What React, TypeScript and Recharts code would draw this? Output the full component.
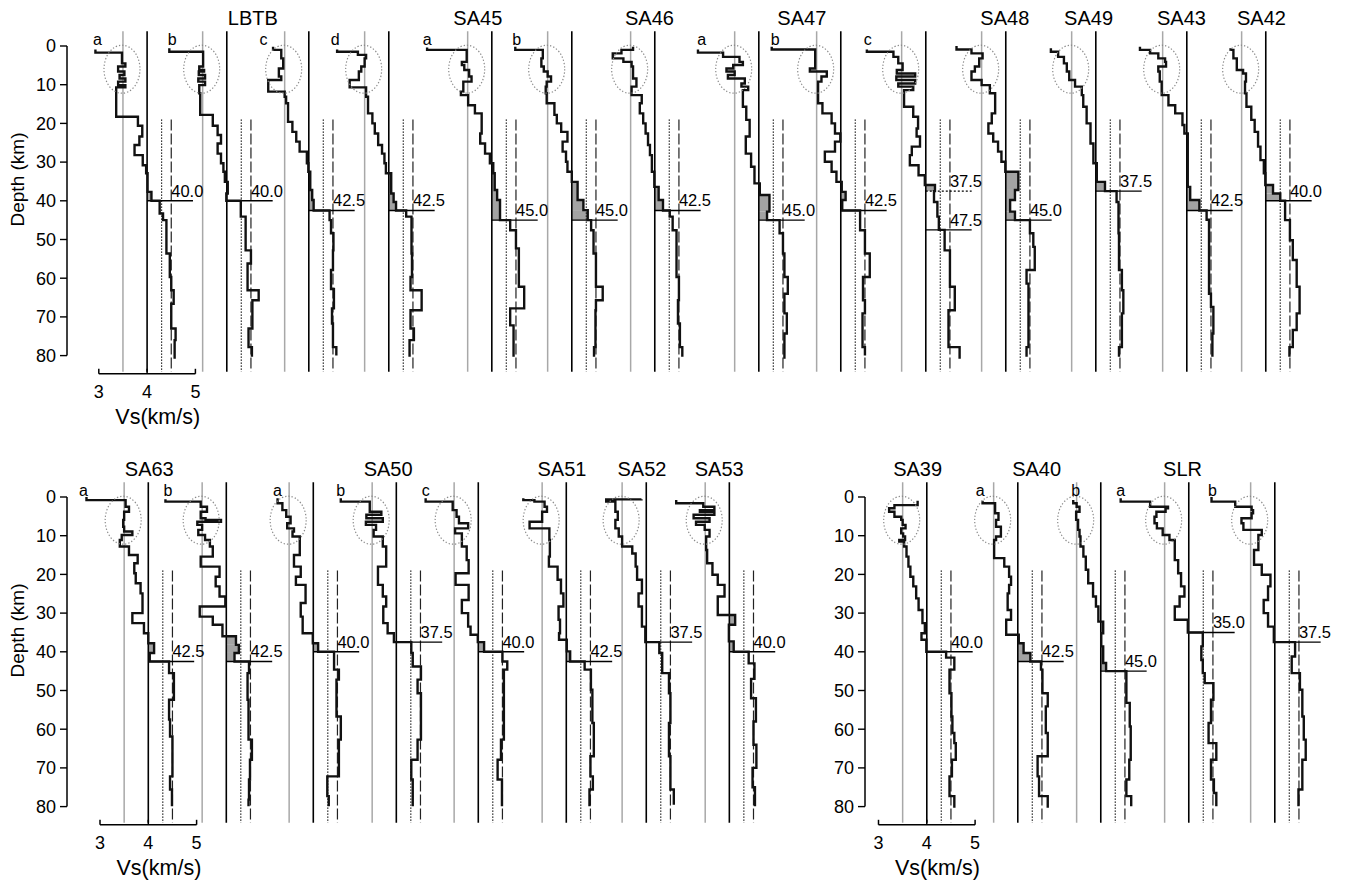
import React from 'react';
import { ComposedChart, XAxis, YAxis, Scatter, ReferenceLine, ReferenceArea, ReferenceDot } from 'recharts';

type Layer = [number, number]; // [layer top depth (km), Vs (km/s)]; last entry = bottom depth

// ---------------- TOP ROW ----------------
const LBTB_A: Layer[] = [[0.9,2.93],[1.7,3.48],[4.5,3.55],[5.3,3.40],[6.6,3.53],[7.5,3.43],[8.4,3.55],[9.2,3.40],[10.1,3.55],[10.7,3.36],[18.3,3.81],[20.6,3.90],[23.4,3.84],[25.6,3.74],[28.2,3.91],[30.8,3.98],[32.9,4.01],[37.7,4.09],[40.0,4.26],[43.3,4.33],[45.0,4.40],[53.6,4.47],[59.7,4.50],[63.1,4.55],[66.6,4.50],[73.0,4.59],[76.0,4.57],[80.8,4.57]];
const LBTB_B: Layer[] = [[0.6,2.81],[1.5,3.51],[5.3,3.43],[6.2,3.53],[6.6,3.42],[7.5,3.55],[8.4,3.41],[9.2,3.55],[10.1,3.43],[12.2,3.45],[17.8,3.71],[20.6,3.81],[23.0,3.88],[25.2,3.81],[27.8,3.88],[30.3,3.93],[32.5,3.96],[35.1,4.02],[38.1,3.99],[40.0,4.29],[44.1,4.39],[52.8,4.50],[56.2,4.43],[63.1,4.66],[65.7,4.53],[73.0,4.45],[77.8,4.52],[80.3,4.52]];
const LBTB_C: Layer[] = [[0.2,3.26],[1.0,3.43],[3.2,3.47],[5.8,3.38],[7.9,3.43],[8.8,3.16],[11.8,3.50],[13.1,3.53],[14.8,3.57],[19.6,3.66],[22.2,3.74],[24.7,3.81],[27.3,3.96],[30.3,3.99],[32.5,4.03],[37.2,4.07],[39.8,4.10],[42.5,4.43],[45.0,4.46],[48.4,4.51],[52.8,4.50],[57.9,4.46],[62.8,4.52],[67.8,4.48],[71.7,4.50],[77.8,4.57],[80.0,4.57]];
const LBTB_D: Layer[] = [[0.9,2.93],[1.5,3.36],[2.3,3.53],[3.2,3.50],[5.3,3.43],[6.6,3.38],[8.8,3.19],[10.7,3.53],[13.1,3.57],[17.4,3.66],[20.0,3.71],[22.6,3.78],[25.6,3.86],[27.8,3.91],[30.3,3.94],[32.9,4.05],[38.1,4.10],[40.3,4.15],[42.5,4.36],[44.1,4.47],[53.6,4.48],[59.7,4.45],[63.1,4.68],[68.3,4.45],[73.0,4.52],[76.0,4.43],[80.3,4.43]];
const SA45_A: Layer[] = [[0.4,2.66],[1.0,3.48],[4.1,3.38],[4.9,3.43],[6.2,3.53],[7.9,3.58],[9.2,3.41],[11.8,3.36],[12.7,3.51],[15.3,3.65],[17.4,3.79],[22.6,3.76],[25.2,3.86],[27.8,3.96],[30.3,4.03],[32.9,4.06],[37.2,4.11],[39.8,4.17],[45.0,4.38],[47.6,4.50],[52.3,4.56],[62.2,4.67],[67.8,4.38],[72.2,4.45],[80.3,4.45]];
const SA45_B: Layer[] = [[0.2,2.83],[1.0,3.40],[3.2,3.37],[5.3,3.42],[6.6,3.50],[7.9,3.57],[9.2,3.48],[10.5,3.46],[12.2,3.48],[14.8,3.64],[17.8,3.69],[20.0,3.78],[22.2,3.91],[24.7,3.81],[27.3,3.88],[29.9,3.91],[32.5,4.00],[35.1,4.12],[39.8,4.24],[42.4,4.33],[45.0,4.40],[47.6,4.45],[53.6,4.50],[62.2,4.64],[65.7,4.50],[68.3,4.49],[77.8,4.46],[80.3,4.46]];
const SA46: Layer[] = [[0.2,3.55],[1.0,3.31],[1.9,3.13],[3.2,3.35],[4.1,3.52],[5.3,3.55],[8.4,3.62],[10.5,3.52],[12.7,3.73],[14.8,3.69],[17.4,3.76],[20.0,3.81],[22.6,3.86],[25.6,3.90],[28.2,3.94],[32.5,3.99],[36.4,4.08],[39.8,4.17],[42.5,4.31],[44.1,4.37],[47.6,4.45],[59.7,4.50],[65.7,4.48],[71.7,4.52],[77.8,4.57],[80.3,4.57]];
const SA47_A: Layer[] = [[0.9,2.74],[1.7,3.26],[2.8,3.60],[4.1,3.67],[4.9,3.47],[5.8,3.33],[6.6,3.50],[7.5,3.36],[8.4,3.71],[9.7,3.64],[10.5,3.78],[11.4,3.67],[15.7,3.74],[19.1,3.81],[23.4,3.73],[27.8,3.84],[31.2,3.91],[35.5,4.02],[38.5,4.22],[42.8,4.17],[45.0,4.43],[48.4,4.50],[53.6,4.53],[59.7,4.60],[64.0,4.53],[69.1,4.58],[74.3,4.53],[80.8,4.53]];
const SA47_B: Layer[] = [[0.2,2.57],[0.9,3.47],[5.8,3.36],[6.6,3.71],[7.9,3.60],[9.2,3.53],[14.8,3.62],[17.4,3.81],[20.0,3.88],[22.6,3.99],[24.7,3.88],[27.3,3.67],[29.9,3.81],[32.5,3.91],[35.1,4.02],[37.7,4.10],[39.8,4.03],[42.5,4.40],[47.6,4.50],[53.6,4.60],[59.7,4.46],[65.7,4.50],[69.1,4.45],[77.8,4.50],[80.0,4.50]];
const SA47_C: Layer[] = [[0.9,2.78],[1.5,3.33],[2.8,3.43],[4.5,3.52],[6.2,3.40],[7.1,3.78],[7.9,3.39],[8.8,3.78],[9.7,3.43],[10.5,3.74],[11.4,3.55],[15.7,3.74],[18.3,3.84],[21.3,3.81],[23.4,3.88],[26.0,3.71],[28.2,3.67],[30.8,3.85],[33.4,3.98],[35.9,4.19],[37.5,4.17],[40.3,4.24],[44.1,4.27],[47.5,4.39],[52.8,4.50],[62.2,4.60],[68.3,4.47],[77.8,4.70],[80.8,4.70]];
const SA48: Layer[] = [[0.0,2.98],[0.9,3.29],[1.9,3.52],[3.2,3.45],[5.3,3.36],[6.6,3.29],[8.8,3.50],[10.1,3.67],[12.2,3.78],[17.4,3.71],[20.0,3.64],[22.6,3.74],[24.7,3.84],[27.3,3.91],[29.9,3.99],[32.5,4.26],[37.2,4.19],[39.8,4.09],[42.8,4.19],[45.0,4.50],[48.4,4.57],[51.9,4.60],[57.9,4.43],[61.4,4.47],[77.8,4.43],[80.3,4.43]];
const SA49: Layer[] = [[0.6,3.07],[1.5,3.22],[2.8,3.34],[4.5,3.40],[6.6,3.45],[8.8,3.57],[10.5,3.71],[12.7,3.74],[15.7,3.81],[20.0,3.89],[25.2,3.95],[30.3,4.02],[35.1,4.19],[37.5,4.43],[40.3,4.47],[48.4,4.48],[57.9,4.54],[63.1,4.57],[69.1,4.54],[77.8,4.48],[80.3,4.48]];
const SA43: Layer[] = [[0.2,3.03],[1.0,3.24],[1.9,3.41],[3.2,3.55],[4.1,3.57],[5.3,3.41],[6.6,3.44],[9.2,3.48],[12.7,3.62],[15.3,3.76],[17.4,3.91],[20.4,3.95],[22.6,4.02],[36.4,4.07],[39.8,4.26],[42.5,4.41],[44.9,4.46],[64.0,4.50],[67.4,4.55],[74.3,4.53],[80.3,4.53]];
const SA42: Layer[] = [[0.6,3.27],[1.0,3.33],[3.2,3.40],[6.2,3.53],[7.1,3.59],[9.2,3.57],[12.2,3.60],[15.7,3.70],[19.1,3.77],[22.2,3.84],[26.0,3.89],[29.5,3.96],[32.9,3.99],[35.9,4.15],[38.1,4.30],[40.0,4.40],[45.0,4.50],[50.2,4.56],[55.3,4.64],[62.2,4.70],[69.1,4.64],[73.4,4.56],[77.8,4.49],[80.3,4.49]];

// ---------------- BOTTOM LEFT ----------------
const SA63_A: Layer[] = [[0.0,2.72],[0.8,3.53],[2.5,3.60],[3.8,3.50],[5.9,3.48],[7.7,3.50],[8.9,3.67],[9.8,3.45],[11.1,3.41],[12.8,3.60],[15.0,3.78],[17.1,3.71],[19.7,3.74],[22.3,3.84],[24.9,3.88],[30.0,3.67],[32.6,3.91],[35.2,4.00],[37.8,4.12],[40.3,4.03],[42.5,4.43],[45.5,4.53],[52.4,4.43],[57.5,4.45],[61.9,4.50],[72.2,4.45],[75.6,4.49],[79.9,4.49]];
const SA63_B: Layer[] = [[0.6,2.74],[1.2,3.47],[2.5,3.60],[3.8,3.47],[5.5,3.57],[5.9,3.89],[6.4,3.40],[7.2,3.50],[8.5,3.42],[9.8,3.56],[11.1,3.66],[12.8,3.72],[15.4,3.47],[18.0,3.86],[20.6,3.78],[23.1,3.86],[25.7,3.98],[28.3,3.45],[30.9,3.72],[33.0,3.92],[36.0,4.20],[38.2,4.26],[40.3,4.17],[42.5,4.47],[45.5,4.44],[52.4,4.46],[62.7,4.53],[67.9,4.49],[73.0,4.47],[78.2,4.46],[79.9,4.46]];
const SA50_A: Layer[] = [[0.3,3.26],[1.6,3.36],[3.4,3.44],[5.1,3.53],[6.8,3.46],[8.1,3.60],[8.9,3.57],[10.2,3.72],[15.0,3.60],[18.0,3.74],[20.6,3.64],[22.7,3.84],[27.4,3.74],[30.9,3.78],[35.2,3.99],[37.8,4.10],[40.0,4.43],[44.6,4.53],[47.2,4.48],[56.7,4.57],[62.7,4.53],[72.2,4.29],[77.3,4.32],[79.9,4.32]];
const SA50_B: Layer[] = [[0.3,2.85],[1.2,3.45],[3.8,3.69],[4.6,3.38],[5.5,3.72],[6.4,3.37],[7.2,3.58],[8.5,3.53],[10.2,3.72],[12.8,3.79],[18.0,3.62],[22.7,3.72],[25.7,3.79],[28.3,3.73],[32.6,3.82],[35.2,3.95],[37.5,4.31],[40.3,4.34],[43.8,4.51],[47.2,4.44],[50.7,4.51],[62.7,4.44],[67.9,4.31],[73.0,4.34],[79.9,4.34]];
const SA50_C: Layer[] = [[0.3,2.91],[1.2,3.47],[3.4,3.55],[5.1,3.60],[6.8,3.79],[8.1,3.52],[9.4,3.66],[12.8,3.76],[16.3,3.80],[19.7,3.53],[22.7,3.80],[26.6,3.66],[30.0,3.79],[33.5,3.84],[35.6,3.99],[37.5,4.12],[40.0,4.50],[42.5,4.60],[44.6,4.53],[62.7,4.47],[67.9,4.40],[73.0,4.49],[79.9,4.49]];
const SA51: Layer[] = [[0.3,3.11],[0.8,3.34],[1.2,3.55],[2.5,3.60],[3.8,3.50],[6.4,3.24],[8.1,3.65],[11.1,3.66],[15.4,3.64],[18.0,3.82],[21.4,3.89],[24.9,3.94],[28.3,3.84],[31.7,3.87],[35.2,3.85],[36.9,4.01],[39.9,4.08],[42.5,4.38],[44.6,4.51],[49.8,4.54],[58.4,4.57],[67.0,4.50],[72.2,4.55],[75.6,4.48],[79.9,4.48]];
const SA52: Layer[] = [[0.6,3.90],[0.62,3.17],[1.2,3.36],[3.8,3.41],[5.9,3.36],[8.1,3.43],[10.2,3.50],[12.8,3.71],[14.6,3.78],[18.0,3.81],[21.4,3.91],[24.9,3.84],[28.3,3.91],[33.5,3.98],[37.5,4.27],[40.3,4.33],[45.5,4.47],[50.7,4.50],[58.4,4.47],[67.0,4.50],[75.6,4.57],[79.5,4.57]];
const SA53: Layer[] = [[0.8,2.90],[1.6,3.46],[2.5,3.69],[3.4,3.39],[3.8,3.69],[4.6,3.26],[5.5,3.59],[6.4,3.31],[7.2,3.49],[8.5,3.59],[10.2,3.52],[13.7,3.54],[17.1,3.65],[20.1,3.76],[22.7,3.90],[25.7,3.76],[30.5,4.12],[33.0,3.99],[37.3,4.09],[40.0,4.40],[43.0,4.52],[47.0,4.45],[52.0,4.55],[58.0,4.50],[64.0,4.56],[70.0,4.48],[75.0,4.53],[79.9,4.53]];

// ---------------- BOTTOM RIGHT ----------------
const SA39: Layer[] = [[1.0,3.81],[2.1,3.33],[2.9,3.22],[3.8,3.33],[5.1,3.47],[5.9,3.50],[7.2,3.56],[8.1,3.47],[9.4,3.51],[10.2,3.55],[11.1,3.43],[11.5,3.53],[12.8,3.58],[15.4,3.62],[18.0,3.66],[20.6,3.72],[23.1,3.78],[26.2,3.83],[29.2,3.91],[32.6,3.96],[35.2,3.89],[36.9,3.99],[40.0,4.40],[41.5,4.57],[44.6,4.47],[50.7,4.51],[56.7,4.53],[61.0,4.57],[63.6,4.60],[67.9,4.52],[72.2,4.47],[77.3,4.57],[80.3,4.57]];
const SA40_A: Layer[] = [[1.0,3.27],[1.6,3.53],[4.2,3.60],[5.9,3.55],[7.7,3.65],[10.2,3.55],[11.1,3.51],[15.8,3.72],[18.0,3.82],[20.6,3.86],[22.7,3.82],[24.9,3.79],[29.2,3.86],[31.7,3.76],[35.6,4.02],[37.8,4.12],[40.3,4.26],[42.5,4.48],[44.6,4.51],[50.7,4.62],[54.1,4.58],[61.0,4.62],[67.0,4.41],[72.2,4.44],[77.3,4.62],[80.3,4.62]];
const SA40_B: Layer[] = [[0.8,3.43],[1.6,3.50],[2.5,3.56],[3.8,3.49],[5.9,3.53],[8.5,3.56],[10.2,3.58],[12.8,3.64],[15.4,3.69],[18.8,3.74],[22.3,3.84],[25.7,3.90],[28.3,3.95],[32.2,4.05],[35.2,4.01],[38.6,4.05],[42.9,4.11],[45.0,4.53],[53.2,4.60],[59.3,4.62],[67.9,4.59],[73.0,4.53],[77.3,4.63],[79.9,4.63]];
const SLR_A: Layer[] = [[0.3,2.59],[1.2,3.20],[2.5,3.57],[2.9,3.52],[3.8,3.33],[5.1,3.29],[6.8,3.34],[8.1,3.46],[9.8,3.60],[11.1,3.71],[16.3,3.78],[19.7,3.84],[23.1,3.91],[25.7,3.81],[28.3,3.71],[31.7,3.98],[35.0,4.29],[38.6,4.26],[42.1,4.29],[45.5,4.33],[48.1,4.51],[52.4,4.46],[58.4,4.41],[63.6,4.57],[67.9,4.46],[73.0,4.52],[76.5,4.57],[79.9,4.57]];
const SLR_B: Layer[] = [[0.0,2.69],[1.2,3.18],[2.5,3.52],[3.4,3.55],[4.2,3.52],[5.5,3.31],[6.8,3.35],[8.5,3.73],[9.8,3.66],[13.7,3.57],[17.5,3.73],[20.1,3.91],[23.1,3.86],[26.6,3.77],[30.0,3.86],[33.5,3.98],[37.5,4.42],[41.2,4.35],[45.5,4.52],[49.8,4.57],[56.7,4.60],[62.7,4.64],[67.9,4.57],[75.6,4.49],[79.9,4.49]];

// ---------------- row tables ----------------
const TOP_PROFILES = [LBTB_A, LBTB_B, LBTB_C, LBTB_D, SA45_A, SA45_B, SA46, SA47_A, SA47_B, SA47_C, SA48, SA49, SA43, SA42];
const TOP_LETTERS = ['a', 'b', 'c', 'd', 'a', 'b', '', 'a', 'b', 'c', '', '', '', ''];
const TOP_MOHO = [40.0, 40.0, 42.5, 42.5, 45.0, 45.0, 42.5, 45.0, 42.5, 47.5, 45.0, 37.5, 42.5, 40.0];
const TOP_MOHO_UPPER: (number | null)[] = [null, null, null, null, null, null, null, null, null, 37.5, null, null, null, null];
const TOP_TITLES = ['LBTB', 'SA45', 'SA46', 'SA47', 'SA48', 'SA49', 'SA43', 'SA42'];

const BL_PROFILES = [SA63_A, SA63_B, SA50_A, SA50_B, SA50_C, SA51, SA52, SA53];
const BL_LETTERS = ['a', 'b', 'a', 'b', 'c', '', '', ''];
const BL_MOHO = [42.5, 42.5, 40.0, 37.5, 40.0, 42.5, 37.5, 40.0];
const BL_MOHO_UPPER: (number | null)[] = [null, null, null, null, null, null, null, null];
const BL_TITLES = ['SA63', 'SA50', 'SA51', 'SA52', 'SA53'];

const BR_PROFILES = [SA39, SA40_A, SA40_B, SLR_A, SLR_B];
const BR_LETTERS = ['', 'a', 'b', 'a', 'b'];
const BR_MOHO = [40.0, 42.5, 45.0, 35.0, 37.5];
const BR_MOHO_UPPER: (number | null)[] = [null, null, null, null, null];
const BR_TITLES = ['SA39', 'SA40', 'SLR'];

const VS_TICKS = [3, 4, 5];
const DEPTH_TICKS = [0, 10, 20, 30, 40, 50, 60, 70, 80];
const REF_GRAY = 3.5;
const REF_BLACK = 4.0;
const REF_DOT = 4.3;
const REF_DASH = 4.5;

// ---------------- layout (positions/styles only) ----------------
const FONT = '"Liberation Sans", Arial, Helvetica, sans-serif';
const PX_KMS = 48.3;
const PX_KM = 3.87;
const D_MIN = -10;
const D_MAX = 84.7;
const X_AXIS_H = 60;
const TITLE_DEPTH = -7.2;
const LETTER_DEPTH = -1.8;

interface Layout {
  left: number; top: number; width: number; plotLeft: number; unit3Px: number; zeroPx: number;
  offsets: number[]; titlePos: [number, number][]; letterDx: number[]; depthLabel: boolean;
}

const TOP_LAYOUT: Layout = {
  left: 0, top: 0, width: 1347, plotLeft: 67, unit3Px: 98.8, zeroPx: 46,
  offsets: [0, 1.65, 3.348, 5.004, 7.137, 8.793, 10.511, 12.665, 14.362, 16.122, 17.778, 19.642, 21.526, 23.161],
  titlePos: [[0, 6.19], [4, 3.71], [6, 3.89], [7, 4.89], [10, 3.98], [11, 3.85], [12, 3.89], [13, 3.91]],
  letterDx: [0.04, 0.06, -0.2, -0.04, 0.0, 0.03, 0, 0.08, 0.07, 0.02, 0, 0, 0, 0],
  depthLabel: true,
};
const BL_LAYOUT: Layout = {
  left: 0, top: 440, width: 800, plotLeft: 67, unit3Px: 100, zeroPx: 497,
  offsets: [0, 1.615, 3.416, 5.135, 6.832, 8.654, 10.31, 12.03],
  titlePos: [[0, 4.02], [3, 3.83], [5, 3.91], [6, 3.91], [7, 3.79]],
  letterDx: [-0.06, 0.05, 0.0, 0.0, 0.0, 0, 0, 0],
  depthLabel: true,
};
const BR_LAYOUT: Layout = {
  left: 798, top: 440, width: 549, plotLeft: 865, unit3Px: 878.5, zeroPx: 497,
  offsets: [0, 1.884, 3.602, 5.424, 7.205],
  titlePos: [[0, 3.81], [1, 4.39], [3, 3.87]],
  letterDx: [0, -0.05, 0.05, 0.0, 0.02],
  depthLabel: false,
};

const NoDot = () => <g />;

const textShape = (txt: string, size: number, anchor: 'start' | 'middle' | 'end', dx: number, dy: number, baseline = 'central') =>
  (p: any) => (
    <text x={p.cx + dx} y={p.cy + dy} textAnchor={anchor} dominantBaseline={baseline}
      fontSize={size} fontFamily={FONT} fill="#000">{txt}</text>
  );

const ellipseShape = (p: any) => (
  <ellipse cx={p.cx} cy={p.cy} rx={18} ry={24} fill="none" stroke="#8a8a8a" strokeWidth={1.2} strokeDasharray="1.3 2" />
);

const depthLabelShape = (p: any) => (
  <text transform={`translate(${p.cx - 50},${p.cy}) rotate(-90)`} textAnchor="middle" dominantBaseline="central"
    fontSize={19} fontFamily={FONT} fill="#000">Depth (km)</text>
);

function polyline(layers: Layer[], off: number) {
  const pts: { x: number; y: number }[] = [];
  for (let k = 0; k < layers.length - 1; k++) {
    const v = layers[k][1] + off;
    pts.push({ x: v, y: layers[k][0] }, { x: v, y: layers[k + 1][0] });
  }
  return pts;
}

function Row({ L, profiles, letters, moho, mohoUpper, titles }:
  { L: Layout; profiles: Layer[][]; letters: string[]; moho: number[]; mohoUpper: (number | null)[]; titles: string[] }) {
  const yAxisW = L.plotLeft - L.left;
  const marginTop = L.zeroPx - L.top + D_MIN * PX_KM;
  const plotH = (D_MAX - D_MIN) * PX_KM;
  const height = Math.ceil(marginTop + plotH + X_AXIS_H);
  const marginBottom = height - marginTop - plotH - X_AXIS_H;
  const marginRight = 6;
  const plotW = L.width - yAxisW - marginRight;
  const uMin = 3 - (L.unit3Px - L.plotLeft) / PX_KMS;
  const uMax = uMin + plotW / PX_KMS;
  const lineTop = -3.8;
  const lineBot = 84.2;

  const areas: React.ReactNode[] = [];
  const refs: React.ReactNode[] = [];
  const series: React.ReactNode[] = [];
  const overlays: React.ReactNode[] = [];

  profiles.forEach((layers, i) => {
    const off = L.offsets[i];
    const up = mohoUpper[i];
    const shadeLimit = up != null ? up : moho[i];
    for (let k = 0; k < layers.length - 1; k++) {
      const d0 = layers[k][0];
      const d1 = layers[k + 1][0];
      const v = layers[k][1];
      if (d1 <= shadeLimit + 1e-6 && v > REF_BLACK) {
        areas.push(<ReferenceArea key={`ar${i}-${k}`} x1={off + REF_BLACK} x2={off + v} y1={d0} y2={d1}
          fill="#a3a3a3" fillOpacity={1} stroke="none" ifOverflow="visible" />);
      }
    }
    refs.push(
      <ReferenceLine key={`g${i}`} segment={[{ x: off + REF_GRAY, y: lineTop }, { x: off + REF_GRAY, y: lineBot }]}
        stroke="#a8a8a8" strokeWidth={1.5} ifOverflow="visible" />,
      <ReferenceLine key={`b${i}`} segment={[{ x: off + REF_BLACK, y: lineTop }, { x: off + REF_BLACK, y: lineBot }]}
        stroke="#000" strokeWidth={1.6} ifOverflow="visible" />,
      <ReferenceLine key={`o${i}`} segment={[{ x: off + REF_DOT, y: 19 }, { x: off + REF_DOT, y: lineBot }]}
        stroke="#000" strokeWidth={1.2} strokeDasharray="1.3 1.7" ifOverflow="visible" />,
      <ReferenceLine key={`s${i}`} segment={[{ x: off + REF_DASH, y: 19 }, { x: off + REF_DASH, y: lineBot }]}
        stroke="#222" strokeWidth={1.2} strokeDasharray="11 3" ifOverflow="visible" />,
    );
    series.push(
      <Scatter key={`p${i}`} data={polyline(layers, off)} fill="#111" line={{ stroke: '#111', strokeWidth: 2.4 }}
        shape={NoDot} isAnimationActive={false} />,
    );
    overlays.push(
      <ReferenceDot key={`e${i}`} x={off + 3.48} y={6.0} ifOverflow="visible" shape={ellipseShape} />,
    );
    const mlines: [number, boolean][] = [[moho[i], false]];
    if (up != null) mlines.push([up, true]);
    mlines.forEach(([m, dotted], j) => {
      overlays.push(
        <ReferenceLine key={`m${i}-${j}`} segment={[{ x: off + REF_BLACK, y: m }, { x: off + 4.95, y: m }]}
          stroke="#000" strokeWidth={1.4} strokeDasharray={dotted ? '2 2' : undefined} ifOverflow="visible" />,
        <ReferenceDot key={`ml${i}-${j}`} x={off + 4.5} y={m} ifOverflow="visible"
          shape={textShape(m.toFixed(1), 16.5, 'start', 0, -4, 'auto')} />,
      );
    });
    if (letters[i]) {
      overlays.push(
        <ReferenceDot key={`l${i}`} x={off + layers[0][1] + L.letterDx[i]} y={LETTER_DEPTH} ifOverflow="visible"
          shape={textShape(letters[i], 16, 'middle', 0, 0)} />,
      );
    }
  });

  titles.forEach((t, j) => {
    const [pi, rel] = L.titlePos[j];
    overlays.push(
      <ReferenceDot key={`t${j}`} x={L.offsets[pi] + rel} y={TITLE_DEPTH} ifOverflow="visible"
        shape={textShape(t, 20, 'middle', 0, 0)} />,
    );
  });

  overlays.push(
    <ReferenceLine key="xa" segment={[{ x: VS_TICKS[0], y: D_MAX }, { x: VS_TICKS[VS_TICKS.length - 1], y: D_MAX }]}
      stroke="#000" strokeWidth={1.5} ifOverflow="visible" />,
    ...VS_TICKS.map((t) => (
      <ReferenceLine key={`xt${t}`} segment={[{ x: t, y: D_MAX }, { x: t, y: D_MAX - 5 / PX_KM }]}
        stroke="#000" strokeWidth={1.5} ifOverflow="visible" />
    )),
    <ReferenceDot key="vsl" x={4.22} y={D_MAX} ifOverflow="visible" shape={textShape('Vs(km/s)', 21.5, 'middle', 0, 43)} />,
    <ReferenceLine key="ya" segment={[{ x: uMin, y: 0 }, { x: uMin, y: 80 }]} stroke="#000" strokeWidth={1.5} ifOverflow="visible" />,
  );
  if (L.depthLabel) {
    overlays.push(<ReferenceDot key="dl" x={uMin} y={34.5} ifOverflow="visible" shape={depthLabelShape} />);
  }

  return (
    <div style={{ position: 'absolute', left: L.left, top: L.top }}>
      <ComposedChart width={L.width} height={height}
        margin={{ top: marginTop, right: marginRight, bottom: marginBottom, left: 0 }}>
        <XAxis type="number" dataKey="x" domain={[uMin, uMax]} allowDataOverflow ticks={VS_TICKS} interval={0}
          axisLine={false} tickLine={false} height={X_AXIS_H} tickMargin={5}
          tick={{ fontSize: 18, fill: '#000', fontFamily: FONT }} />
        <YAxis type="number" dataKey="y" domain={[D_MIN, D_MAX]} reversed allowDataOverflow ticks={DEPTH_TICKS}
          interval={0} width={yAxisW} axisLine={false} tickLine={{ stroke: '#000', strokeWidth: 1.4 }} tickSize={7}
          tickMargin={4} tick={{ fontSize: 18, fill: '#000', fontFamily: FONT }} />
        {areas}
        {refs}
        {series}
        {overlays}
      </ComposedChart>
    </div>
  );
}

export default function App() {
  return (
    <div style={{ position: 'absolute', left: 0, top: 0, width: 1347, height: 883, background: '#fff', overflow: 'hidden' }}>
      <Row L={TOP_LAYOUT} profiles={TOP_PROFILES} letters={TOP_LETTERS} moho={TOP_MOHO} mohoUpper={TOP_MOHO_UPPER} titles={TOP_TITLES} />
      <Row L={BL_LAYOUT} profiles={BL_PROFILES} letters={BL_LETTERS} moho={BL_MOHO} mohoUpper={BL_MOHO_UPPER} titles={BL_TITLES} />
      <Row L={BR_LAYOUT} profiles={BR_PROFILES} letters={BR_LETTERS} moho={BR_MOHO} mohoUpper={BR_MOHO_UPPER} titles={BR_TITLES} />
    </div>
  );
}
